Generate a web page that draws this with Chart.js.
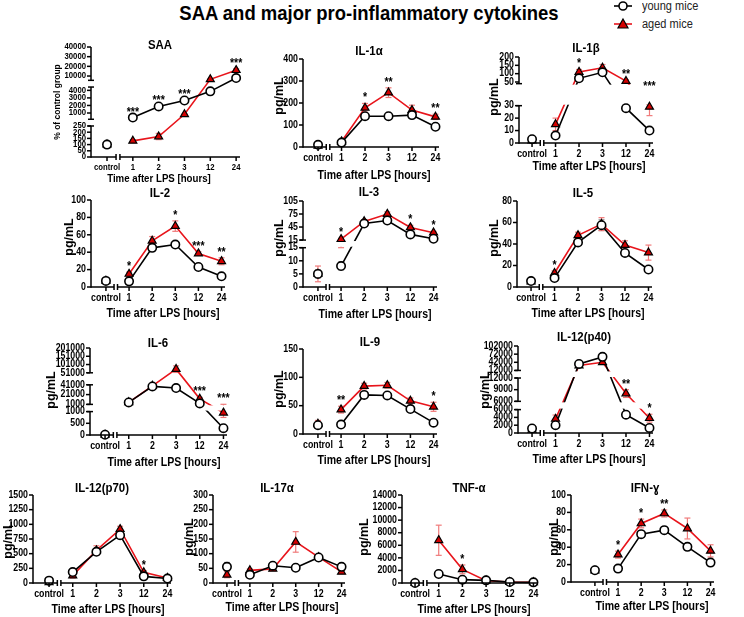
<!DOCTYPE html>
<html>
<head>
<meta charset="utf-8">
<script src="https://cdn.jsdelivr.net/npm/chart.js@4.4.0/dist/chart.umd.min.js"></script>
<style>
body { margin: 0; background: #fff; width: 744px; height: 617px; position: relative; overflow: hidden; font-family: "Liberation Sans", Arial, sans-serif; }
canvas { position: absolute; }
#title { position: absolute; left: 119px; width: 500px; top: 0; line-height: 26px; text-align: center; font-size: 21px; font-weight: bold; transform: scaleX(0.88); }
.leg { position: absolute; left: 642px; font-size: 12.5px; line-height: 14px; color: #222; transform: scaleX(0.88); transform-origin: left center; white-space: nowrap; }
</style>
</head>
<body>
<div id="title">SAA and major pro-inflammatory cytokines</div>
<svg style="position:absolute;left:612px;top:0" width="24" height="32">
  <line x1="2" y1="6" x2="20" y2="6" stroke="#000" stroke-width="1.6"/>
  <circle cx="11" cy="6" r="4" fill="#fff" stroke="#000" stroke-width="1.6"/>
  <line x1="2" y1="24" x2="20" y2="24" stroke="#e8141b" stroke-width="1.6"/>
  <polygon points="11,19 16,28 6,28" fill="#d40000" stroke="#000" stroke-width="1.2"/>
</svg>
<div class="leg" style="top:-1px">young mice</div>
<div class="leg" style="top:17px">aged mice</div>
<script>
// x categories (shared by every panel)
var LABELS = ['control', '1', '2', '3', '12', '24'];

// SAA (% of control group)
var SAA_YOUNG = [100, 400, 1870, 2660, 3870, 7900];
var SAA_AGED = [100, 130, 165, 830, 6600, 16000];
var SAA_YOUNG_ERR = [0, 0, 0, 0, 0, 0];
var SAA_AGED_ERR = [0, 10, 25, 60, 500, 1500];
var SAA_STARS = ['', '***', '***', '***', '', '***'];
var SAA_TICKS = [[0, 50, 100, 150, 200, 250], [1000, 2000, 3000, 4000], [10000, 20000, 30000, 40000]];

// IL-1a
var IL1A_YOUNG = [10, 20, 140, 140, 145, 92];
var IL1A_AGED = [5, 25, 178, 247, 168, 137];
var IL1A_YOUNG_ERR = [8, 5, 8, 12, 8, 5];
var IL1A_AGED_ERR = [0, 5, 20, 22, 22, 12];
var IL1A_STARS = ['', '', '*', '**', '', '**'];
var IL1A_TICKS = [[0, 100, 200, 300, 400]];

// IL-1b
var IL1B_YOUNG = [3, 6, 72, 108, 28, 10];
var IL1B_AGED = [2, 15, 110, 135, 55, 29];
var IL1B_YOUNG_ERR = [1, 1, 5, 15, 2, 1];
var IL1B_AGED_ERR = [0, 5, 15, 20, 8, 7];
var IL1B_STARS = ['', '', '*', '', '**', '***'];
var IL1B_TICKS = [[0, 10, 20, 30], [50, 100, 150, 200]];

// IL-2
var IL2_YOUNG = [7, 6.5, 45, 48.8, 23, 12.3];
var IL2_AGED = [7, 15, 53, 70, 38.5, 29.6];
var IL2_YOUNG_ERR = [1.5, 1, 2, 3, 1, 1];
var IL2_AGED_ERR = [0, 2, 5, 6, 2, 4];
var IL2_STARS = ['', '*', '', '*', '***', '**'];
var IL2_TICKS = [[0, 20, 40, 60, 80, 100]];

// IL-3
var IL3_YOUNG = [5, 8, 53, 60, 28, 18];
var IL3_AGED = [5, 17, 58, 75, 44, 32];
var IL3_YOUNG_ERR = [1.5, 1.5, 3, 3, 3, 2];
var IL3_AGED_ERR = [3, 2, 4, 5, 5, 3];
var IL3_STARS = ['', '*', '', '', '*', '*'];
var IL3_TICKS = [[0, 5, 10, 15], [15, 45, 75, 105]];

// IL-5
var IL5_YOUNG = [5.5, 8.3, 41.5, 57.5, 31.7, 16.3];
var IL5_AGED = [5, 13, 48, 58.5, 39, 32];
var IL5_YOUNG_ERR = [1.5, 1, 2, 5, 2, 1];
var IL5_AGED_ERR = [0, 2, 3, 6, 4, 7];
var IL5_STARS = ['', '*', '', '', '', ''];
var IL5_TICKS = [[0, 20, 40, 60, 80]];

// IL-6
var IL6_YOUNG = [10, 5000, 37700, 34400, 3000, 290];
var IL6_AGED = [10, 5000, 39000, 73000, 12300, 950];
var IL6_YOUNG_ERR = [0, 500, 2000, 2000, 1000, 30];
var IL6_AGED_ERR = [0, 1000, 3000, 20000, 3000, 200];
var IL6_STARS = ['', '', '', '', '***', '***'];
var IL6_TICKS = [[0, 500, 1000], [1000, 21000, 41000], [51000, 101000, 151000, 201000]];

// IL-9
var IL9_YOUNG = [15.5, 16.7, 69, 68, 44, 20];
var IL9_AGED = [18, 43, 84.5, 86, 58.6, 48];
var IL9_YOUNG_ERR = [4, 2, 2, 3, 2, 2];
var IL9_AGED_ERR = [6, 6, 5, 5, 5, 8];
var IL9_STARS = ['', '**', '', '', '', '*'];
var IL9_TICKS = [[0, 50, 100, 150]];

// IL-12(p40)
var P40_YOUNG = [1150, 2000, 35900, 62000, 4700, 1300];
var P40_AGED = [800, 3600, 30000, 42000, 8000, 3800];
var P40_YOUNG_ERR = [300, 400, 3000, 5000, 500, 300];
var P40_AGED_ERR = [0, 1000, 3000, 5000, 1000, 1000];
var P40_STARS = ['', '', '', '', '**', '*'];
var P40_TICKS = [[0, 2000, 4000, 6000], [6000, 9000, 12000], [12000, 42000, 72000, 102000]];

// IL-12(p70)
var P70_YOUNG = [40, 187, 532, 815, 113, 76];
var P70_AGED = [10, 125, 555, 917, 181, 85];
var P70_YOUNG_ERR = [15, 30, 40, 60, 20, 10];
var P70_AGED_ERR = [0, 40, 80, 50, 30, 10];
var P70_STARS = ['', '', '', '', '*', ''];
var P70_TICKS = [[0, 250, 500, 750, 1000, 1250, 1500]];

// IL-17a
var IL17A_YOUNG = [55, 28, 59, 52, 87, 55];
var IL17A_AGED = [28, 43, 48, 140, 88, 38];
var IL17A_YOUNG_ERR = [15, 5, 5, 5, 5, 5];
var IL17A_AGED_ERR = [10, 5, 5, 35, 8, 5];
var IL17A_STARS = ['', '', '', '', '', ''];
var IL17A_TICKS = [[0, 50, 100, 150, 200, 250, 300]];

// TNF-a
var TNFA_YOUNG = [0, 1430, 530, 420, 160, 100];
var TNFA_AGED = [0, 6800, 2170, 370, 150, 100];
var TNFA_YOUNG_ERR = [50, 100, 50, 50, 20, 20];
var TNFA_AGED_ERR = [0, 2400, 700, 100, 50, 30];
var TNFA_STARS = ['', '', '*', '', '', ''];
var TNFA_TICKS = [[0, 2000, 4000, 6000, 8000, 10000, 12000, 14000]];

// IFN-g
var IFNG_YOUNG = [13.5, 15.4, 55, 59.6, 40.4, 22.3];
var IFNG_AGED = [13, 31.5, 67.3, 78.8, 61.5, 35.8];
var IFNG_YOUNG_ERR = [1.5, 1, 1.5, 2, 1.5, 1.5];
var IFNG_AGED_ERR = [0, 4, 5, 4, 12, 7];
var IFNG_STARS = ['', '*', '*', '**', '', ''];
var IFNG_TICKS = [[0, 20, 40, 60, 80, 100]];

// layout of each panel (page pixels) and its axis pieces [lo, hi, fracLo, fracHi]
var PANELS = [
  {title: 'SAA', young: SAA_YOUNG, aged: SAA_AGED, yErr: SAA_YOUNG_ERR, aErr: SAA_AGED_ERR, stars: SAA_STARS, ticks: SAA_TICKS,
   segs: [[0, 250, 0, 0.282], [170, 4440, 0.343, 0.636], [5550, 40000, 0.697, 1]], yTitle: '% of control group',
   ax: 91, top: 47, bot: 157, c0: 107, c5: 236, tPos: [160, 45], xtPos: [159, 179], ytPos: [58, 102], clip: [], small: true},
  {title: 'IL-1α', young: IL1A_YOUNG, aged: IL1A_AGED, yErr: IL1A_YOUNG_ERR, aErr: IL1A_AGED_ERR, stars: IL1A_STARS, ticks: IL1A_TICKS,
   segs: [[0, 400, 0, 1]], ax: 303, top: 59, bot: 147, c0: 318, c5: 435, tPos: [369, 51], xtPos: [374, 176], ytPos: [280, 96]},
  {title: 'IL-1β', young: IL1B_YOUNG, aged: IL1B_AGED, yErr: IL1B_YOUNG_ERR, aErr: IL1B_AGED_ERR, stars: IL1B_STARS, ticks: IL1B_TICKS,
   segs: [[0, 30, 0, 0.434], [40, 200, 0.69, 1]], ax: 519, top: 57, bot: 143, c0: 532, c5: 649, tPos: [586, 48], xtPos: [589, 167], ytPos: [495, 97], clip: [true]},
  {title: 'IL-2', young: IL2_YOUNG, aged: IL2_AGED, yErr: IL2_YOUNG_ERR, aErr: IL2_AGED_ERR, stars: IL2_STARS, ticks: IL2_TICKS,
   segs: [[0, 100, 0, 1]], ax: 91, top: 200, bot: 287, c0: 106, c5: 222, tPos: [160, 193], xtPos: [163, 314], ytPos: [70, 237]},
  {title: 'IL-3', young: IL3_YOUNG, aged: IL3_AGED, yErr: IL3_YOUNG_ERR, aErr: IL3_AGED_ERR, stars: IL3_STARS, ticks: IL3_TICKS,
   segs: [[0, 15, 0, 0.457], [15, 105, 0.546, 1]], ax: 303, top: 201, bot: 287, c0: 318, c5: 434, tPos: [369, 192], xtPos: [375, 315], ytPos: [280, 238], clip: [true]},
  {title: 'IL-5', young: IL5_YOUNG, aged: IL5_AGED, yErr: IL5_YOUNG_ERR, aErr: IL5_AGED_ERR, stars: IL5_STARS, ticks: IL5_TICKS,
   segs: [[0, 80, 0, 1]], ax: 517, top: 201, bot: 287, c0: 531, c5: 648, tPos: [583, 193], xtPos: [588, 314], ytPos: [495, 238]},
  {title: 'IL-6', young: IL6_YOUNG, aged: IL6_AGED, yErr: IL6_YOUNG_ERR, aErr: IL6_AGED_ERR, stars: IL6_STARS, ticks: IL6_TICKS,
   segs: [[0, 1000, 0, 0.269], [1000, 41000, 0.352, 0.577], [51000, 201000, 0.715, 1]], ax: 90, top: 348, bot: 435, c0: 105, c5: 223,
   tPos: [158, 343], xtPos: [164, 463], ytPos: [52, 390], clip: [true, false]},
  {title: 'IL-9', young: IL9_YOUNG, aged: IL9_AGED, yErr: IL9_YOUNG_ERR, aErr: IL9_AGED_ERR, stars: IL9_STARS, ticks: IL9_TICKS,
   segs: [[0, 150, 0, 1]], ax: 303, top: 349, bot: 434, c0: 318, c5: 434, tPos: [370, 342], xtPos: [374, 461], ytPos: [280, 389]},
  {title: 'IL-12(p40)', young: P40_YOUNG, aged: P40_AGED, yErr: P40_YOUNG_ERR, aErr: P40_AGED_ERR, stars: P40_STARS, ticks: P40_TICKS,
   segs: [[0, 6000, 0, 0.269], [6000, 12000, 0.364, 0.632], [12000, 102000, 0.719, 1]], ax: 518, top: 346, bot: 433, c0: 532, c5: 649,
   tPos: [584, 337], xtPos: [589, 460], ytPos: [486, 390], clip: [true, true]},
  {title: 'IL-12(p70)', young: P70_YOUNG, aged: P70_AGED, yErr: P70_YOUNG_ERR, aErr: P70_AGED_ERR, stars: P70_STARS, ticks: P70_TICKS,
   segs: [[0, 1500, 0, 1]], ax: 33, top: 495, bot: 583, c0: 49, c5: 167, tPos: [102, 488], xtPos: [108, 610], ytPos: [9, 540]},
  {title: 'IL-17α', young: IL17A_YOUNG, aged: IL17A_AGED, yErr: IL17A_YOUNG_ERR, aErr: IL17A_AGED_ERR, stars: IL17A_STARS, ticks: IL17A_TICKS,
   segs: [[0, 300, 0, 1]], ax: 213, top: 495, bot: 583, c0: 227, c5: 342, tPos: [277, 488], xtPos: [282, 608], ytPos: [190, 537]},
  {title: 'TNF-α', young: TNFA_YOUNG, aged: TNFA_AGED, yErr: TNFA_YOUNG_ERR, aErr: TNFA_AGED_ERR, stars: TNFA_STARS, ticks: TNFA_TICKS,
   segs: [[0, 14000, 0, 1]], ax: 402, top: 495, bot: 583, c0: 415, c5: 533, tPos: [469, 488], xtPos: [474, 610], ytPos: [365, 537]},
  {title: 'IFN-ɣ', young: IFNG_YOUNG, aged: IFNG_AGED, yErr: IFNG_YOUNG_ERR, aErr: IFNG_AGED_ERR, stars: IFNG_STARS, ticks: IFNG_TICKS,
   segs: [[0, 100, 0, 1]], ax: 571, top: 495, bot: 582, c0: 595, c5: 711, tPos: [645, 488], xtPos: [652, 607], ytPos: [555, 537]}
];

var FONT = '"Liberation Sans", Arial, sans-serif';
var SQ = 0.88;
var PADL = 62, PADT = 30, PADR = 16, PADB = 36;
var XMAX = 5.15, XBREAK = [0.35, 0.5];
var BY_ID = {};

// linear axis cut into pieces, like the Prism broken axes
class BrokenScale extends Chart.LinearScale {
  buildTicks() {
    var out = [];
    BY_ID[this.chart.canvas.id].ticks.forEach(function(set, s) {
      set.forEach(function(v) { out.push({value: v, seg: s}); });
    });
    return out;
  }
  segPixel(v, s) {
    var seg = BY_ID[this.chart.canvas.id].segs[s];
    var f = seg[2] + (v - seg[0]) / (seg[1] - seg[0]) * (seg[3] - seg[2]);
    return this.bottom - f * (this.bottom - this.top);
  }
  getPixelForValue(v) {
    if (v === null || v === undefined) return NaN;
    var segs = BY_ID[this.chart.canvas.id].segs;
    for (var k = 0; k < segs.length; k++) {
      if (v <= segs[k][1]) {
        if (k > 0 && v < segs[k][0]) {
          var y0 = this.segPixel(segs[k - 1][1], k - 1), y1 = this.segPixel(segs[k][0], k);
          return y0 + (v - segs[k - 1][1]) / (segs[k][0] - segs[k - 1][1]) * (y1 - y0);
        }
        return this.segPixel(Math.max(v, segs[k][0]), k);
      }
    }
    return this.segPixel(v, segs.length - 1);
  }
  getPixelForTick(i) {
    var t = this.ticks[i];
    return this.segPixel(t.value, t.seg);
  }
}
BrokenScale.id = 'broken';
BrokenScale.defaults = Chart.LinearScale.defaults;
Chart.register(BrokenScale);

function line(ctx, x1, y1, x2, y2) {
  ctx.beginPath(); ctx.moveTo(x1, y1); ctx.lineTo(x2, y2); ctx.stroke();
}

function say(ctx, str, x, y, size, align) {
  ctx.save();
  ctx.translate(x, y);
  ctx.scale(SQ, 1);
  ctx.font = 'bold ' + size + 'px ' + FONT;
  ctx.textAlign = align;
  ctx.textBaseline = 'middle';
  ctx.fillStyle = '#000';
  ctx.fillText(str, 0, 0);
  ctx.restore();
}

var panelPlugin = {
  id: 'panel',
  beforeDatasetsDraw: function(chart) {
    var p = BY_ID[chart.canvas.id], ctx = chart.ctx, xs = chart.scales.x, ys = chart.scales.y;
    ctx.save();
    ctx.lineWidth = 1.2;
    [[p.young, p.yErr, '#8c8c8c'], [p.aged, p.aErr, '#f07a7a']].forEach(function(s) {
      s[0].forEach(function(v, i) {
        var e = s[1][i];
        if (!e) return;
        var x = xs.getPixelForValue(i);
        var y1 = ys.getPixelForValue(v + e), y2 = ys.getPixelForValue(Math.max(v - e, 0));
        ctx.strokeStyle = s[2];
        line(ctx, x, y1, x, y2);
        line(ctx, x - 3, y1, x + 3, y1);
        line(ctx, x - 3, y2, x + 3, y2);
      });
    });
    ctx.restore();
  },
  afterDatasetDraw: function(chart, args) {
    var p = BY_ID[chart.canvas.id];
    if (args.index !== 2 || !p.clip) return;
    var ys = chart.scales.y, a = chart.chartArea, ctx = chart.ctx;
    ctx.save();
    ctx.fillStyle = '#fff';
    for (var k = 0; k < p.segs.length - 1; k++) {
      if (!p.clip[k]) continue;
      var yLow = ys.segPixel(p.segs[k][1], k), yHigh = ys.segPixel(p.segs[k + 1][0], k + 1);
      ctx.fillRect(a.left + 2, yHigh + 1, a.right - a.left + 10, yLow - yHigh - 2);
    }
    ctx.restore();
  },
  afterDraw: function(chart) {
    var p = BY_ID[chart.canvas.id], ctx = chart.ctx, xs = chart.scales.x, ys = chart.scales.y, a = chart.chartArea;
    var ox = p.left, oy = p.topPx;
    var tick = p.small ? 8.8 : 10;
    ctx.save();
    ctx.strokeStyle = '#000';
    ctx.lineWidth = 1.5;
    // y axis pieces
    p.segs.forEach(function(s, k) {
      var yb = ys.segPixel(s[0], k), yt = ys.segPixel(s[1], k);
      line(ctx, a.left, yb + (k === 0 ? 0.75 : 0), a.left, yt);
      if (k > 0) line(ctx, a.left - 3, yb, a.left + 3, yb);
      if (k < p.segs.length - 1) line(ctx, a.left - 3, yt, a.left + 3, yt);
    });
    ys.ticks.forEach(function(t, i) {
      var y = ys.getPixelForTick(i);
      line(ctx, a.left - 4, y, a.left, y);
      say(ctx, String(t.value), a.left - 5, y, tick, 'right');
    });
    // x axis with the break after control
    var yb = a.bottom, xc = xs.getPixelForValue(XBREAK[0]), xd = xs.getPixelForValue(XBREAK[1]);
    line(ctx, a.left, yb, xc, yb);
    line(ctx, xc, yb - 3, xc, yb + 3);
    line(ctx, xd, yb - 3, xd, yb + 3);
    line(ctx, xd, yb, a.right, yb);
    xs.ticks.forEach(function(t) {
      var x = xs.getPixelForValue(t.value);
      line(ctx, x, yb, x, yb + 4);
      say(ctx, t.label, x, yb + 11, tick, 'center');
    });
    // titles
    say(ctx, p.title, p.tPos[0] - ox, p.tPos[1] - oy, 13, 'center');
    say(ctx, 'Time after LPS [hours]', p.xtPos[0] - ox, p.xtPos[1] - oy, p.small ? 11 : 12, 'center');
    ctx.save();
    ctx.translate(p.ytPos[0] - ox, p.ytPos[1] - oy);
    ctx.rotate(-Math.PI / 2);
    ctx.font = 'bold ' + (p.small ? 8.5 : 12.5) + 'px ' + FONT;
    ctx.textAlign = 'center';
    ctx.textBaseline = 'middle';
    ctx.fillStyle = '#000';
    ctx.fillText(p.yTitle || 'pg/mL', 0, 0);
    ctx.restore();
    // significance marks
    p.stars.forEach(function(st, i) {
      if (!st) return;
      var yTop = Math.min(ys.getPixelForValue(p.young[i] + (p.yErr[i] || 0)), ys.getPixelForValue(p.aged[i] + (p.aErr[i] || 0)));
      ctx.save();
      ctx.translate(xs.getPixelForValue(i), yTop - 2);
      ctx.scale(SQ, 1);
      ctx.font = 'bold 12px ' + FONT;
      ctx.textAlign = 'center';
      ctx.textBaseline = 'alphabetic';
      ctx.fillStyle = '#000';
      ctx.fillText(st, 0, 0);
      ctx.restore();
    });
    ctx.restore();
  }
};

function pts(arr) {
  return arr.map(function(v, i) { return {x: i, y: v}; });
}

PANELS.forEach(function(p, n) {
  var sp = (p.c5 - p.c0) / 5;
  var xmin = -(p.c0 - p.ax) / sp;
  var caw = (XMAX - xmin) * sp;
  var cv = document.createElement('canvas');
  cv.id = 'panel' + n;
  p.left = p.ax - PADL;
  p.topPx = p.top - PADT;
  cv.width = Math.round(PADL + caw + PADR);
  cv.height = PADT + (p.bot - p.top) + PADB;
  cv.style.left = p.left + 'px';
  cv.style.top = p.topPx + 'px';
  document.body.appendChild(cv);
  BY_ID[cv.id] = p;
  var yMax = p.segs[p.segs.length - 1][1];

  new Chart(cv, {
    type: 'line',
    data: {
      datasets: [
        {data: pts(p.young), showLine: false, pointStyle: 'circle', pointRadius: 4.2, pointBackgroundColor: '#fff',
         pointBorderColor: '#000', pointBorderWidth: 1.6, clip: false},
        {data: pts(p.aged), showLine: false, pointStyle: 'triangle', pointRadius: 4.6, pointBackgroundColor: '#d40000',
         pointBorderColor: '#000', pointBorderWidth: 1.2, clip: false},
        {data: pts(p.young).slice(1), borderColor: '#000', borderWidth: 1.6, pointRadius: 0, tension: 0, clip: false},
        {data: pts(p.aged).slice(1), borderColor: '#e8141b', borderWidth: 1.6, pointRadius: 0, tension: 0, clip: false}
      ]
    },
    options: {
      responsive: false,
      animation: false,
      events: [],
      layout: {padding: {left: 0, top: PADT, right: PADR, bottom: 0}},
      plugins: {legend: {display: false}, tooltip: {enabled: false}},
      scales: {
        x: {
          type: 'linear', min: xmin, max: XMAX,
          grid: {display: false}, border: {display: false},
          ticks: {display: false, callback: function(v) { return LABELS[v]; }},
          afterBuildTicks: function(s) { s.ticks = LABELS.map(function(l, i) { return {value: i}; }); },
          afterFit: function(s) { s.height = PADB; }
        },
        y: {
          type: 'broken', min: 0, max: yMax,
          grid: {display: false}, border: {display: false},
          ticks: {display: false},
          afterFit: function(s) { s.width = PADL; }
        }
      }
    },
    plugins: [panelPlugin]
  });
});
</script>
</body>
</html>
